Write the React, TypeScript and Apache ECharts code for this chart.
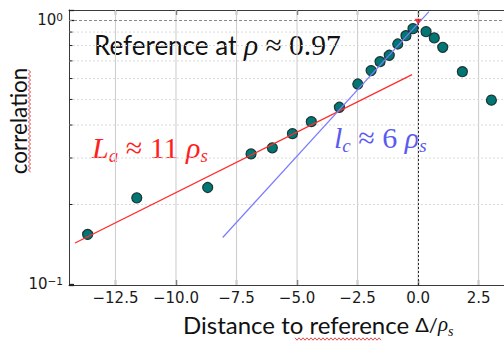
import React, { useEffect, useRef } from "react";
import * as echarts from "echarts";

// ---- data ----
const pointX = [-13.65, -11.62, -8.69, -6.9, -6.02, -5.19, -4.41, -3.25, -2.49, -1.94, -1.57, -1.19, -0.84, -0.5, -0.21, 0.33, 0.67, 1.02, 1.83, 3.03];
const pointY = [0.154, 0.212, 0.232, 0.311, 0.328, 0.371, 0.412, 0.467, 0.572, 0.643, 0.695, 0.735, 0.811, 0.872, 0.927, 0.903, 0.855, 0.788, 0.637, 0.497];
const fitAX = [-14.17, -0.25];
const fitAY = [0.143, 0.621];
const fitCX = [-8.07, 0.45];
const fitCY = [0.15, 1.075];
const refPointX = [0];
const refPointY = [0.985];
const xTickValues = [-12.5, -10, -7.5, -5, -2.5, 0, 2.5];
const yMinorValues = [0.2, 0.3, 0.4, 0.5, 0.6, 0.7, 0.8, 0.9];
const X_MIN = -14.42;
const X_MAX = 3.55;
const Y_MIN = 0.0991;
const Y_MAX = 1.091;

const SANS = 'Lato, "Noto Sans", sans-serif';
const SERIF = '"Liberation Serif", "DejaVu Serif", serif';
const TICK = '"DejaVu Sans", sans-serif';

const fmtX = (v: number) => {
  const s = Math.abs(v).toFixed(1);
  return v < 0 ? "\u2212" + s : s;
};

function squiggle(x0: number, y0: number, len: number, vertical: boolean) {
  const pts: number[][] = [];
  const step = 2;
  for (let i = 0; i <= len / step; i++) {
    const off = i % 2 === 0 ? -1.2 : 1.2;
    const t = i * step;
    pts.push(vertical ? [x0 + off, y0 + t] : [x0 + t, y0 + off]);
  }
  return pts;
}

function mathRich(color: string, size: number, subSize: number, lh: number, subLh: number) {
  return {
    t: { fontFamily: SANS, fontSize: 26, fill: color, lineHeight: lh },
    i: { fontFamily: SERIF, fontStyle: "italic", fontSize: size, fill: color, lineHeight: lh },
    m: { fontFamily: SERIF, fontSize: size, fill: color, lineHeight: lh },
    sub: { fontFamily: SERIF, fontStyle: "italic", fontSize: subSize, fill: color, lineHeight: subLh, verticalAlign: "bottom" },
  };
}

export default function App() {
  const ref = useRef<HTMLDivElement>(null);
  useEffect(() => {
    if (!ref.current) return;
    const chart = echarts.init(ref.current, null, { renderer: "svg" });
    const axisLineStyle = { color: "#3a3a3a", width: 1 };
    const option: any = {
      animation: false,
      backgroundColor: "#ffffff",
      grid: { left: 69, right: 0, top: 10, bottom: 57, containLabel: false, outerBoundsMode: "none" },
      xAxis: [
        {
          type: "value",
          position: "bottom",
          min: X_MIN,
          max: X_MAX,
          axisLine: { show: true, onZero: false, lineStyle: axisLineStyle },
          axisTick: { show: true, inside: true, length: 5, customValues: xTickValues, lineStyle: { color: "#222", width: 1.3 } },
          axisLabel: { customValues: xTickValues, formatter: fmtX, fontFamily: TICK, fontSize: 15, color: "#1a1a1a", margin: 5 },
          splitLine: { show: false },
        },
        {
          type: "value",
          position: "top",
          min: X_MIN,
          max: X_MAX,
          axisLine: { show: true, onZero: false, lineStyle: axisLineStyle },
          axisTick: { show: true, inside: true, length: 5, customValues: xTickValues, lineStyle: { color: "#222", width: 1.3 } },
          axisLabel: { show: false },
          splitLine: { show: false },
        },
      ],
      yAxis: {
        type: "log",
        logBase: 10,
        min: Y_MIN,
        max: Y_MAX,
        axisLine: { show: true, onZero: false, lineStyle: axisLineStyle },
        axisTick: { show: true, inside: true, length: 5, lineStyle: { color: "#222", width: 1.3 } },
        axisLabel: {
          margin: 6,
          formatter: (v: number) => {
            const l = Math.log10(v);
            const r = Math.round(l);
            if (Math.abs(l - r) > 1e-6) return "";
            return "{b|10}{s|" + (r < 0 ? "\u2212" + Math.abs(r) : String(r)) + "}";
          },
          rich: {
            b: { fontFamily: TICK, fontSize: 15, color: "#1a1a1a", lineHeight: 16, verticalAlign: "bottom" },
            s: { fontFamily: TICK, fontSize: 10.5, color: "#1a1a1a", lineHeight: 12, verticalAlign: "top" },
          },
        },
        splitLine: { show: false },
      },
      series: [
        {
          type: "custom",
          silent: true,
          z: 1,
          data: xTickValues.map((v) => [v, Y_MIN]),
          encode: { x: 0, y: 1 },
          renderItem: (_p: any, api: any) => {
            const v = api.value(0);
            const a = api.coord([v, Y_MIN]);
            const b = api.coord([v, Y_MAX]);
            return {
              type: "line",
              shape: { x1: a[0], y1: a[1], x2: b[0], y2: b[1] },
              style: { stroke: "#cfcfcf", lineWidth: 1.1 },
            };
          },
        },
        {
          type: "custom",
          silent: true,
          z: 1,
          data: yMinorValues.map((v) => [X_MIN, v]),
          encode: { x: 0, y: 1 },
          renderItem: (_p: any, api: any) => {
            const v = api.value(1);
            const a = api.coord([X_MIN, v]);
            const b = api.coord([X_MAX, v]);
            return {
              type: "group",
              children: [
                { type: "line", shape: { x1: a[0], y1: a[1], x2: b[0], y2: b[1] }, style: { stroke: "#dadada", lineWidth: 1, lineDash: [2, 2] } },
                { type: "line", shape: { x1: a[0], y1: a[1], x2: a[0] + 3.5, y2: a[1] }, style: { stroke: "#222", lineWidth: 1 } },
              ],
            };
          },
        },
        {
          type: "scatter",
          name: "correlation",
          z: 3,
          data: pointX.map((x, i) => [x, pointY[i]]),
          symbol: "circle",
          symbolSize: 10,
          itemStyle: { color: "#007774", borderColor: "#1d3535", borderWidth: 1.2, opacity: 1 },
          markLine: {
            silent: true,
            symbol: "none",
            label: { show: false },
            data: [
              { yAxis: 1, lineStyle: { color: "#8a8a8a", width: 1, type: [3, 2] } },
              { xAxis: 0, lineStyle: { color: "#2a2a2a", width: 1, type: [2, 2] } },
            ],
          },
        },
        {
          type: "line",
          name: "La fit",
          z: 4,
          data: fitAX.map((x, i) => [x, fitAY[i]]),
          showSymbol: false,
          lineStyle: { color: "#ff2a2a", width: 1.3 },
        },
        {
          type: "line",
          name: "lc fit",
          z: 4,
          data: fitCX.map((x, i) => [x, fitCY[i]]),
          showSymbol: false,
          lineStyle: { color: "#7b7bff", width: 1.2 },
        },
        {
          type: "scatter",
          name: "reference",
          z: 5,
          data: refPointX.map((x, i) => [x, refPointY[i]]),
          symbol: "triangle",
          symbolRotate: 180,
          symbolSize: [7, 6],
          itemStyle: { color: "#e8141a" },
        },
      ],
      graphic: [
        {
          type: "text",
          x: 94,
          y: 28,
          silent: true,
          style: {
            text: "{t|Reference at }{i|\u03c1}{m| \u2248 0.97}",
            align: "left",
            verticalAlign: "top",
            rich: mathRich("#111111", 29.5, 17, 34, 16),
          },
        },
        {
          type: "text",
          x: 92,
          y: 129,
          silent: true,
          style: {
            text: "{i|L}{sub|a}{m| \u2248 11 }{i|\u03c1}{sub|s}",
            align: "left",
            verticalAlign: "top",
            rich: mathRich("#ff1f1f", 30, 19, 36, 17),
          },
        },
        {
          type: "text",
          x: 334,
          y: 119,
          silent: true,
          style: {
            text: "{i|l}{sub|c}{m| \u2248 6 }{i|\u03c1}{sub|s}",
            align: "left",
            verticalAlign: "top",
            rich: mathRich("#5a5af0", 30, 19, 36, 17),
          },
        },
        {
          type: "text",
          x: 18,
          y: 121,
          rotation: Math.PI / 2,
          silent: true,
          style: {
            text: "correlation",
            fontFamily: SANS,
            fontSize: 22.5,
            fill: "#111111",
            align: "center",
            verticalAlign: "middle",
          },
        },
        {
          type: "text",
          x: 183,
          y: 310,
          silent: true,
          style: {
            text: "{t|Distance to reference }{d|\u0394/}{i|\u03c1}{sub|s}",
            align: "left",
            verticalAlign: "top",
            rich: {
              t: { fontFamily: SANS, fontSize: 24, fill: "#111111", lineHeight: 28 },
              d: { fontFamily: SANS, fontSize: 20, fill: "#111111", lineHeight: 28 },
              i: { fontFamily: SERIF, fontStyle: "italic", fontSize: 21, fill: "#111111", lineHeight: 28 },
              sub: { fontFamily: SERIF, fontStyle: "italic", fontSize: 14, fill: "#111111", lineHeight: 12, verticalAlign: "bottom" },
            },
          },
        },
        {
          type: "polyline",
          silent: true,
          shape: { points: squiggle(29.5, 70, 102, true) },
          style: { stroke: "#e03a3a", lineWidth: 0.9, fill: "none" },
        },
        {
          type: "polyline",
          silent: true,
          shape: { points: squiggle(295, 339, 86, false) },
          style: { stroke: "#e03a3a", lineWidth: 0.9, fill: "none" },
        },
      ],
    };
    chart.setOption(option);
    return () => chart.dispose();
  }, []);
  return (
    <div
      ref={ref}
      style={{ position: "fixed", left: 0, top: 0, width: 504, height: 342, background: "#fff" }}
    />
  );
}
